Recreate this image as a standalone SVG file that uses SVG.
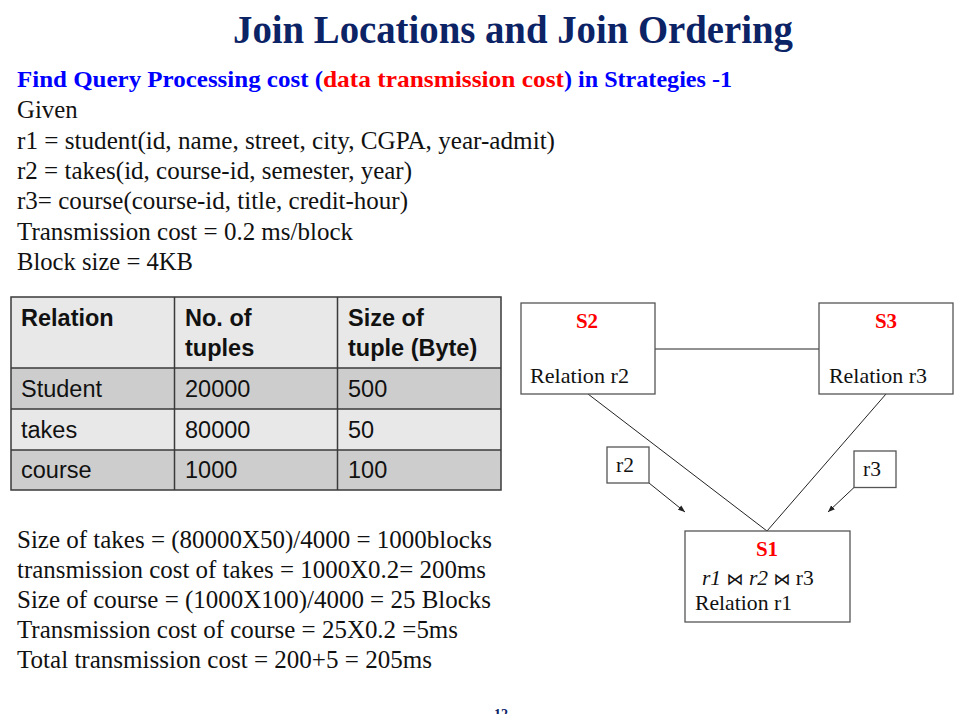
<svg xmlns="http://www.w3.org/2000/svg" width="974" height="714" viewBox="0 0 974 714">
<defs>
<style>
.serif{font-family:"Liberation Serif","Times New Roman",serif;}
.sans{font-family:"Liberation Sans",Arial,sans-serif;}
.body{font-family:"Liberation Serif","Times New Roman",serif;font-size:24.8px;fill:#111;}
.cell{font-family:"Liberation Sans",Arial,sans-serif;font-size:23.5px;fill:#111;}
.hdr{font-weight:bold;}
.box{fill:#fff;stroke:#555;stroke-width:1.3;}
.edge{stroke:#222;stroke-width:1;fill:none;}
.site{font-family:"Liberation Serif","Times New Roman",serif;font-size:21px;font-weight:bold;fill:#ff0000;}
.lbl{font-family:"Liberation Serif","Times New Roman",serif;font-size:21.5px;fill:#111;}
.grid{stroke:#3a3a3a;stroke-width:1.5;}
</style>
<marker id="ah" viewBox="0 0 10 10" refX="10" refY="5" markerWidth="7" markerHeight="7" orient="auto" markerUnits="userSpaceOnUse">
<path d="M0,1 L10,5 L0,9 Z" fill="#222"/>
</marker>
</defs>
<rect width="974" height="714" fill="#fff"/>

<g id="title">
<text class="serif" x="233" y="43" font-size="39" font-weight="bold" fill="#0c2366" textLength="560" lengthAdjust="spacingAndGlyphs">Join Locations and Join Ordering</text>
</g>

<g id="subtitle" class="serif" font-size="23.5" font-weight="bold">
<text x="17" y="87" fill="#0000ff" textLength="306" lengthAdjust="spacingAndGlyphs">Find Query Processing cost (</text>
<text x="323" y="87" fill="#ff0000" textLength="241" lengthAdjust="spacingAndGlyphs">data transmission cost</text>
<text x="564" y="87" fill="#0000ff" textLength="168" lengthAdjust="spacingAndGlyphs">) in Strategies -1</text>
</g>

<g id="given">
<text class="body" x="17" y="118">Given</text>
<text class="body" x="17" y="148.5" textLength="538" lengthAdjust="spacingAndGlyphs">r1 = student(id, name, street, city, CGPA, year-admit)</text>
<text class="body" x="17" y="179" textLength="395" lengthAdjust="spacingAndGlyphs">r2 = takes(id, course-id, semester, year)</text>
<text class="body" x="17" y="209" textLength="391" lengthAdjust="spacingAndGlyphs">r3= course(course-id, title, credit-hour)</text>
<text class="body" x="17" y="239.5" textLength="336" lengthAdjust="spacingAndGlyphs">Transmission cost = 0.2 ms/block</text>
<text class="body" x="17" y="270" textLength="176" lengthAdjust="spacingAndGlyphs">Block size = 4KB</text>
</g>

<g id="table">
<rect x="11" y="297" width="490" height="71" fill="#e8e8e8"/>
<rect x="11" y="368" width="490" height="41" fill="#cdcdcd"/>
<rect x="11" y="409" width="490" height="41" fill="#e8e8e8"/>
<rect x="11" y="450" width="490" height="40" fill="#cdcdcd"/>
<rect x="11" y="297" width="490" height="193" fill="none" class="grid"/>
<line class="grid" x1="11" y1="368" x2="501" y2="368"/>
<line class="grid" x1="11" y1="409" x2="501" y2="409"/>
<line class="grid" x1="11" y1="450" x2="501" y2="450"/>
<line class="grid" x1="174.5" y1="297" x2="174.5" y2="490"/>
<line class="grid" x1="337.5" y1="297" x2="337.5" y2="490"/>
<text class="cell hdr" x="21" y="326">Relation</text>
<text class="cell hdr" x="185" y="326">No. of</text>
<text class="cell hdr" x="185" y="356">tuples</text>
<text class="cell hdr" x="348" y="326">Size of</text>
<text class="cell hdr" x="348" y="356">tuple (Byte)</text>
<text class="cell" x="21" y="397">Student</text>
<text class="cell" x="185" y="397">20000</text>
<text class="cell" x="348" y="397">500</text>
<text class="cell" x="21" y="437.5">takes</text>
<text class="cell" x="185" y="437.5">80000</text>
<text class="cell" x="348" y="437.5">50</text>
<text class="cell" x="21" y="477.5">course</text>
<text class="cell" x="185" y="477.5">1000</text>
<text class="cell" x="348" y="477.5">100</text>
</g>

<g id="connectors">
<line class="edge" x1="655" y1="349" x2="819" y2="349"/>
<line class="edge" x1="588" y1="394" x2="767" y2="531"/>
<line class="edge" x1="886" y1="394" x2="767" y2="531"/>
<line class="edge" x1="649" y1="483" x2="685" y2="512" marker-end="url(#ah)"/>
<line class="edge" x1="854" y1="487.5" x2="828" y2="512" marker-end="url(#ah)"/>
</g>

<g id="S2">
<rect class="box" x="521" y="303" width="134" height="91"/>
<text class="site" x="587" y="328" text-anchor="middle">S2</text>
<text class="lbl" x="530" y="383" textLength="99" lengthAdjust="spacingAndGlyphs">Relation r2</text>
</g>

<g id="S3">
<rect class="box" x="819" y="303" width="134" height="91"/>
<text class="site" x="886" y="328" text-anchor="middle">S3</text>
<text class="lbl" x="829" y="383" textLength="98" lengthAdjust="spacingAndGlyphs">Relation r3</text>
</g>

<g id="S1">
<rect class="box" x="685" y="531" width="165" height="91"/>
<text class="site" x="767" y="556" text-anchor="middle">S1</text>
<text class="lbl" x="702" y="585"><tspan font-style="italic">r1</tspan> <tspan font-family="DejaVu Sans, sans-serif" font-size="17">⋈</tspan> <tspan font-style="italic">r2</tspan> <tspan font-family="DejaVu Sans, sans-serif" font-size="17">⋈</tspan> r3</text>
<text class="lbl" x="695" y="610" textLength="97" lengthAdjust="spacingAndGlyphs">Relation r1</text>
</g>

<g id="r2label">
<rect class="box" x="607" y="447" width="42" height="36"/>
<text class="lbl" x="616" y="472">r2</text>
</g>

<g id="r3label">
<rect class="box" x="854" y="451" width="42" height="36.5"/>
<text class="lbl" x="863" y="476">r3</text>
</g>

<g id="calc">
<text class="body" x="17" y="548" textLength="475" lengthAdjust="spacingAndGlyphs">Size of takes = (80000X50)/4000 = 1000blocks</text>
<text class="body" x="17" y="578" textLength="469" lengthAdjust="spacingAndGlyphs">transmission cost of takes = 1000X0.2= 200ms</text>
<text class="body" x="17" y="608" textLength="474" lengthAdjust="spacingAndGlyphs">Size of course = (1000X100)/4000 = 25 Blocks</text>
<text class="body" x="17" y="638" textLength="441" lengthAdjust="spacingAndGlyphs">Transmission cost of course = 25X0.2 =5ms</text>
<text class="body" x="17" y="668" textLength="415" lengthAdjust="spacingAndGlyphs">Total transmission cost = 200+5 = 205ms</text>
</g>

<g id="pagenum">
<text class="serif" x="501" y="719" font-size="14" font-weight="bold" fill="#0c2366" text-anchor="middle">12</text>
</g>
</svg>
